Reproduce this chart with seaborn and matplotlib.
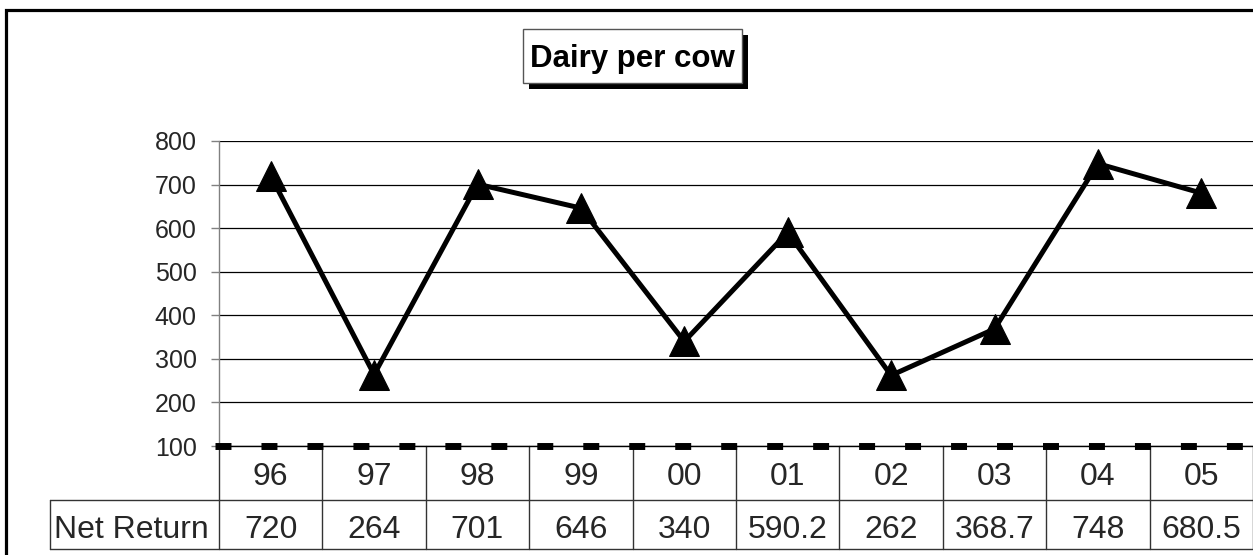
import seaborn as sns
import pandas as pd
import matplotlib.pyplot as plt
from matplotlib.patches import Rectangle
import matplotlib.transforms as mtransforms

# data
years = ["96", "97", "98", "99", "00", "01", "02", "03", "04", "05"]
net_return = [720, 264, 701, 646, 340, 590.2, 262, 368.7, 748, 680.5]
value_labels = ["720", "264", "701", "646", "340", "590.2", "262", "368.7", "748", "680.5"]
row_label = "Net Return"
title = "Dairy per cow"
y_ticks = [100, 200, 300, 400, 500, 600, 700, 800]

sns.set_theme(style="white")
plt.rcParams["font.family"] = ["Liberation Sans", "DejaVu Sans"]
plt.rcParams["lines.scale_dashes"] = False

df = pd.DataFrame({"pos": range(len(years)), "year": years, "value": net_return})

W, H = 1253, 555
fig = plt.figure(figsize=(W / 100, H / 100), dpi=100)
fig.patch.set_facecolor("white")

# plot area in pixels: x 219..1253, y 141..446
ax = fig.add_axes([219 / W, (H - 446) / H, (W - 219) / W, (446 - 141) / H])

# outer chart border (clipped at right and bottom)
fig.patches.append(Rectangle((5.5 / W, -0.2), 1.3, 1.2 - 9.5 / H, transform=fig.transFigure,
                             fill=False, ec="black", lw=2.3, zorder=0))

ax.set_xlim(-0.5, len(years) - 0.5)
ax.set_ylim(100, 800)
ax.set_yticks(y_ticks)
ax.set_xticks(df["pos"])
ax.set_xticklabels([])
ax.tick_params(axis="x", length=0)
ax.tick_params(axis="y", direction="out", length=6, width=1, color="#808080",
               labelsize=18, pad=10, left=True)
ax.yaxis.grid(True, color="black", lw=0.9)
ax.set_axisbelow(True)
for s in ["top", "right", "bottom"]:
    ax.spines[s].set_visible(False)
ax.spines["left"].set_color("#808080")
ax.spines["left"].set_linewidth(1)

sns.lineplot(data=df, x="pos", y="value", ax=ax, color="black", lw=3.6,
             marker="^", markersize=21, markeredgecolor="black",
             markerfacecolor="black", clip_on=False, zorder=5)
ax.set_xlabel("")
ax.set_ylabel("")

# dashed category axis at y=100
ax.plot([-0.5, len(years) - 0.5], [100, 100], color="black", lw=1, clip_on=False, zorder=4)
ax.plot([-0.54, len(years) - 0.5], [100, 100], color="black", lw=5,
        ls=(0, (11.5, 21.6)), solid_capstyle="butt", clip_on=False, zorder=4)

# data table under the axis
trans = mtransforms.blended_transform_factory(ax.transData, ax.transAxes)
ph = 446 - 141
y_mid = -(500 - 446) / ph
y_bot = -(549 - 446) / ph
y_base1 = -(485 - 446) / ph
y_base2 = -(538 - 446) / ph
x_lab = -0.5 - (219 - 50) / 103.4
line_kw = dict(color="#333333", lw=1, transform=trans, clip_on=False)
for k in range(len(years) + 1):
    ax.plot([k - 0.5, k - 0.5], [y_bot, 0], **line_kw)
ax.plot([x_lab, len(years) - 0.5], [y_mid, y_mid], **line_kw)
ax.plot([x_lab, len(years) - 0.5], [y_bot, y_bot], **line_kw)
ax.plot([x_lab, x_lab], [y_bot, y_mid], **line_kw)

for i, (yr, lab) in enumerate(zip(years, value_labels)):
    ax.text(i, y_base1, yr, transform=trans, ha="center", va="baseline", fontsize=23)
    ax.text(i, y_base2, lab, transform=trans, ha="center", va="baseline", fontsize=23)
ax.text((x_lab - 0.5) / 2 - 0.03, y_base2, row_label, transform=trans,
        ha="center", va="baseline", fontsize=23)

# title box with drop shadow: box 523..742 x 29..83 px, shadow offset 6 px
bx0, bx1, by0, by1 = 523, 742, 29, 83
fig.patches.append(Rectangle(((bx0 + 6) / W, 1 - (by1 + 6) / H), (bx1 - bx0) / W, (by1 - by0) / H,
                             transform=fig.transFigure, fc="black", ec="black", lw=0, zorder=2))
fig.patches.append(Rectangle((bx0 / W, 1 - by1 / H), (bx1 - bx0) / W, (by1 - by0) / H,
                             transform=fig.transFigure, fc="white", ec="#555555", lw=1, zorder=3))
fig.text((bx0 + bx1) / 2 / W, 1 - 67 / H, title, ha="center", va="baseline",
         fontsize=22.5, fontweight="bold", color="black", zorder=4)

plt.savefig("out.png", dpi=100)
